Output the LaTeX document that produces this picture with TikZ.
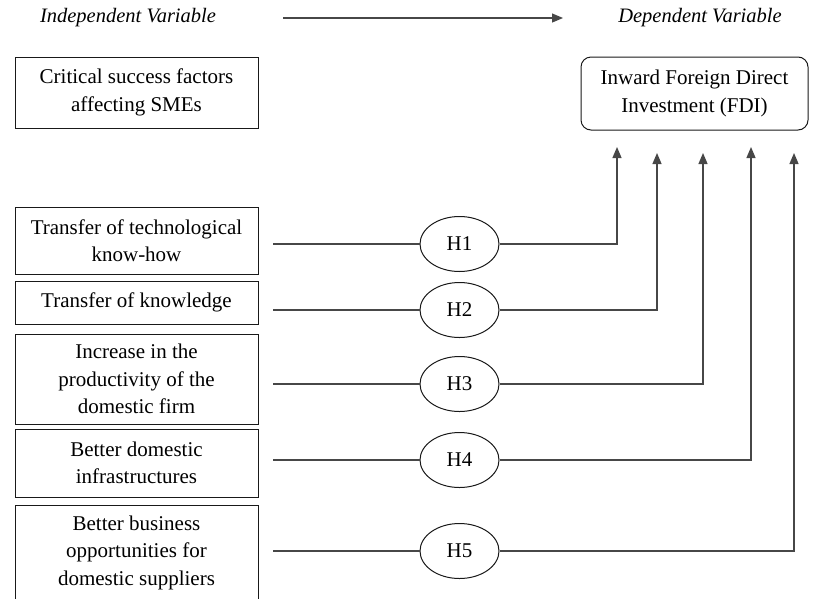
\documentclass[tikz,border=0pt]{standalone}
\usepackage{fontspec}
\setmainfont{Liberation Serif}
\usetikzlibrary{arrows.meta,shapes.geometric}
\begin{document}
\begin{tikzpicture}[x=1pt,y=-1pt,
  box/.style={draw=black!90,line width=1pt,minimum width=243pt,align=center,
    font=\fontsize{21}{27.5}\selectfont,inner sep=0pt},
  hyp/.style={draw=black!90,line width=1pt,ellipse,minimum width=79pt,
    minimum height=55pt,inner sep=0pt,font=\fontsize{21}{22}\selectfont},
  conn/.style={draw=black!72,line width=1.2pt},
  tip/.style={-{Triangle[length=11pt,width=9pt]}},
  lbl/.style={font=\fontsize{20.5}{22}\selectfont\itshape}]
\useasboundingbox (0,0) rectangle (816,598);
% header
\node[lbl] (iv) at (128,18) {Independent Variable};
\node[lbl] (dv) at (700,18) {Dependent Variable};
\coordinate (a0) at (283,18);
\coordinate (a1) at (563,18);
\draw[conn,tip] (a0) -- (a1);
% top boxes
\node[box,minimum height=71pt] (csf) at (136.5,92.5) {Critical success factors\\affecting SMEs};
\node[box,rounded corners=10pt,minimum width=227pt,minimum height=73pt] (fdi) at (694.5,93.5) {Inward Foreign Direct\\Investment (FDI)};
% factor boxes
\node[box,minimum height=67pt] (b1) at (136.5,240.5) {Transfer of technological\\know-how};
\node[box,minimum height=43pt] (b2) at (136.5,302.5) {Transfer of knowledge};
\node[box,minimum height=90pt] (b3) at (136.5,379) {Increase in the\\productivity of the\\domestic firm};
\node[box,minimum height=68pt] (b4) at (136.5,463) {Better domestic\\infrastructures};
\node[box,minimum height=95pt] (b5) at (136.5,552.5) {Better business\\opportunities for\\domestic suppliers};
% hypotheses
\node[hyp] (h1) at (459.5,244) {H1};
\node[hyp] (h2) at (459.5,310) {H2};
\node[hyp] (h3) at (459.5,384) {H3};
\node[hyp] (h4) at (459.5,460) {H4};
\node[hyp] (h5) at (459.5,551) {H5};
% line starts
\coordinate (s1) at (273,244);
\coordinate (s2) at (273,310);
\coordinate (s3) at (273,384);
\coordinate (s4) at (273,460);
\coordinate (s5) at (273,551);
% arrow tips
\coordinate (t1) at (617,147);
\coordinate (t2) at (657,153);
\coordinate (t3) at (703,153);
\coordinate (t4) at (751,147);
\coordinate (t5) at (794,153);
\foreach \i in {1,...,5}{
  \draw[conn] (s\i) -- (h\i.west);
  \draw[conn,tip] (h\i.east) -| (t\i);
}
\end{tikzpicture}
\end{document}
